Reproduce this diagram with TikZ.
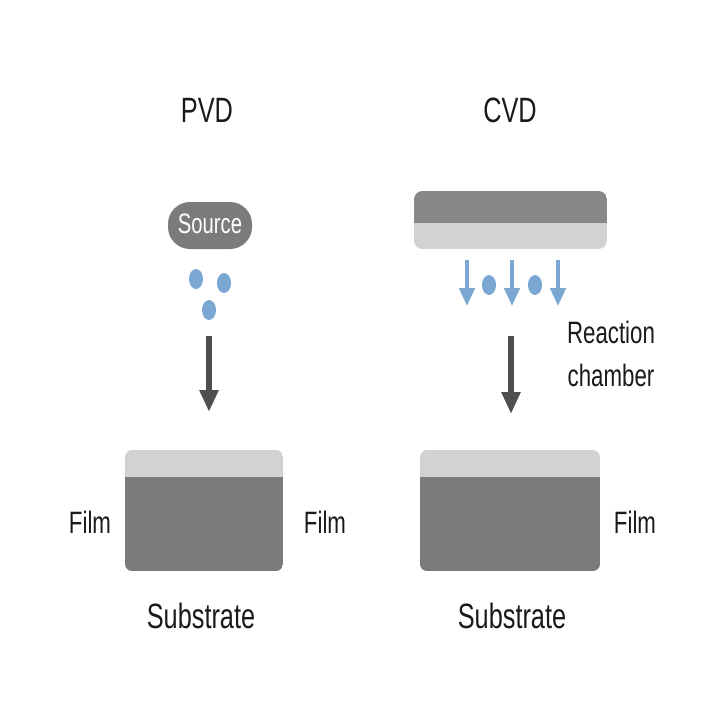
\documentclass[tikz,border=0pt]{standalone}
\usepackage{fontspec}
\setmainfont{Liberation Sans}
\usetikzlibrary{positioning,arrows.meta,shapes.geometric}
\definecolor{DepSubstrate}{HTML}{7B7B7B}
\definecolor{DepFilm}{HTML}{D2D2D2}
\definecolor{DepPlate}{HTML}{888888}
\definecolor{DepBlue}{HTML}{7BA7D3}
\definecolor{DepArrow}{HTML}{4F4F4F}
\definecolor{DepText}{HTML}{1A1A1A}
\newcommand\narrowtext[1]{\scalebox{0.72}[1]{#1}}

\begin{document}
\begin{tikzpicture}[x=0.025cm,y=-0.025cm,
  title/.style={font=\fontsize{25}{30}\selectfont,text=DepText,anchor=base},
  lbl/.style={font=\fontsize{22}{30.5}\selectfont,text=DepText,align=center,anchor=base},
  particle/.style={fill=DepBlue,draw=none,ellipse,minimum width=0.35cm,minimum height=0.5cm,inner sep=0pt},
  flow/.style={-{Triangle[length=0.55cm,width=0.45cm]},line width=4.2pt,DepArrow},
  gas/.style={-{Triangle[length=0.45cm,width=0.38cm]},line width=2.8pt,DepBlue}]
  \useasboundingbox (0,0) rectangle (704,706);
  % titles
  \node[title] (pvd) at (207,122) {\narrowtext{PVD}};
  \node[title] (cvd) at (510,122) {\narrowtext{CVD}};
  % PVD source and particles
  \fill[DepSubstrate,rounded corners=0.55cm] (168,202) rectangle (252,249);
  \node[text=white,font=\fontsize{20}{24}\selectfont,anchor=base] (src) at (210,233) {\narrowtext{Source}};
  \node[particle] (p1) at (196,279) {};
  \node[particle] (p2) at (224,283) {};
  \node[particle] (p3) at (209,310) {};
  \coordinate (pa) at (209,336);
  \coordinate (pb) at (209,412);
  \draw[flow] (pa) -- (pb);
  % PVD substrate with film
  \begin{scope}
    \clip[rounded corners=5] (125,450) rectangle (283,571);
    \fill[DepFilm] (125,450) rectangle (283,477);
    \fill[DepSubstrate] (125,477) rectangle (283,571);
  \end{scope}
  \node[lbl] (filmL) at (90,533) {\narrowtext{Film}};
  \node[lbl] (filmR) at (325,533) {\narrowtext{Film}};
  \node[title] (subL) at (201,628) {\narrowtext{Substrate}};
  % CVD plate
  \begin{scope}
    \clip[rounded corners=6] (414,191) rectangle (607,249);
    \fill[DepPlate] (414,191) rectangle (607,223);
    \fill[DepFilm] (414,223) rectangle (607,249);
  \end{scope}
  % gas flow and particles
  \foreach \x/\n in {467/g1,512/g2,558/g3} {
    \coordinate (\n a) at (\x,260);
    \coordinate (\n b) at (\x,306);
    \draw[gas] (\n a) -- (\n b);
  }
  \node[particle] (q1) at (489,285) {};
  \node[particle] (q2) at (535,285) {};
  \node[lbl] (chamber) at (611,386) {\narrowtext{Reaction}\\\narrowtext{chamber}};
  \coordinate (ca) at (511,336);
  \coordinate (cb) at (511,414);
  \draw[flow] (ca) -- (cb);
  % CVD substrate with film
  \begin{scope}
    \clip[rounded corners=5] (420,450) rectangle (600,571);
    \fill[DepFilm] (420,450) rectangle (600,477);
    \fill[DepSubstrate] (420,477) rectangle (600,571);
  \end{scope}
  \node[lbl] (filmC) at (635,533) {\narrowtext{Film}};
  \node[title] (subC) at (512,628) {\narrowtext{Substrate}};
\end{tikzpicture}
\end{document}
